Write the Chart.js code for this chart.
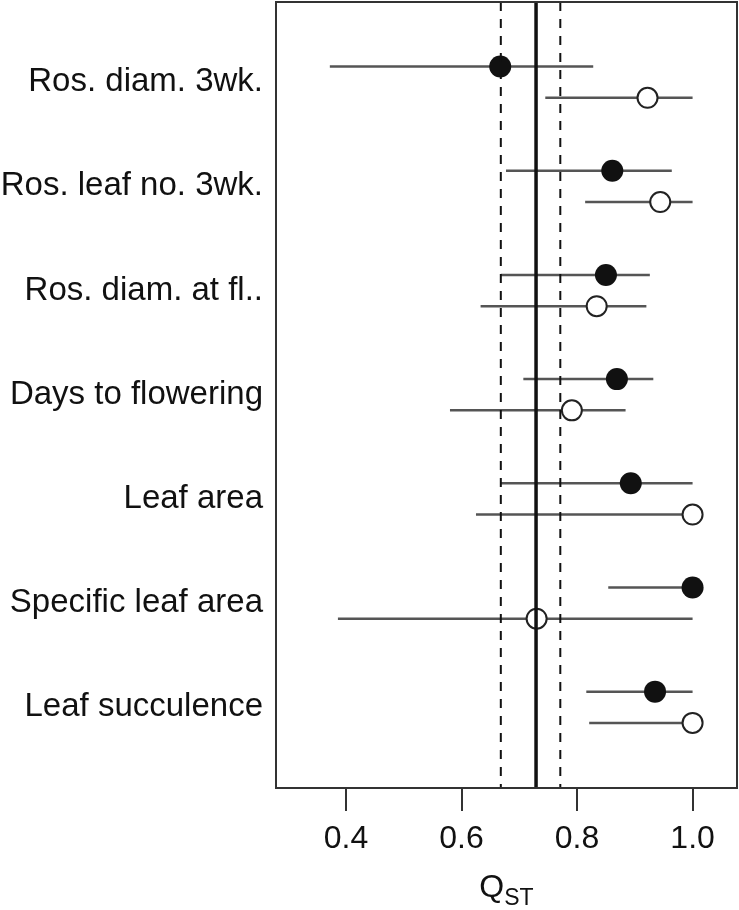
<!DOCTYPE html>
<html>
<head>
<meta charset="utf-8">
<script src="https://cdn.jsdelivr.net/npm/chart.js@4/dist/chart.umd.min.js"></script>
<style>
	html, body { margin: 0; padding: 0; background: #fff; }
	#plot { position: relative; width: 739px; height: 910px; }
</style>
</head>
<body>
<div id="plot"><canvas id="chart"></canvas></div>
<script>
const traits = [
	'Ros. diam. 3wk.',
	'Ros. leaf no. 3wk.',
	'Ros. diam. at fl..',
	'Days to flowering',
	'Leaf area',
	'Specific leaf area',
	'Leaf succulence',
];

// filled circles
const filledMean = [0.667, 0.861, 0.850, 0.869, 0.893, 1.000, 0.935];
const filledLow  = [0.372, 0.677, 0.668, 0.707, 0.668, 0.854, 0.816];
const filledHigh = [0.828, 0.964, 0.926, 0.932, 1.000, 1.000, 1.000];

// open circles
const openMean = [0.922, 0.944, 0.834, 0.791, 1.000, 0.730, 1.000];
const openLow  = [0.745, 0.814, 0.633, 0.580, 0.625, 0.386, 0.821];
const openHigh = [1.000, 1.000, 0.920, 0.884, 1.000, 1.000, 1.000];

// vertical reference lines
const refMean = 0.729;
const refLow = 0.668;
const refHigh = 0.771;

const xTicks = [0.4, 0.6, 0.8, 1.0];

const FONT = '"Liberation Sans", Arial, Helvetica, sans-serif';
const ROW_SHIFT = 0.15;
const Y_MIN = -0.77;
const Y_MAX = 6.775;

const whisker = (lo, hi, y) => ({
	data: [{x: lo, y}, {x: hi, y}],
	showLine: true,
	borderColor: '#555',
	borderWidth: 2.5,
	pointRadius: 0,
	order: 2,
});

const vline = (x, width, dash) => ({
	data: [{x, y: Y_MIN}, {x, y: Y_MAX}],
	showLine: true,
	borderColor: '#111',
	borderWidth: width,
	borderDash: dash,
	pointRadius: 0,
	order: 0,
});

const datasets = [];
traits.forEach((_, i) => {
	datasets.push(whisker(filledLow[i], filledHigh[i], i - ROW_SHIFT));
	datasets.push(whisker(openLow[i], openHigh[i], i + ROW_SHIFT));
});
datasets.push({
	data: filledMean.map((x, i) => ({x, y: i - ROW_SHIFT})),
	pointRadius: 11,
	pointBackgroundColor: '#111',
	pointBorderColor: '#111',
	pointBorderWidth: 0,
	order: 1,
});
datasets.push({
	data: openMean.map((x, i) => ({x, y: i + ROW_SHIFT})),
	pointRadius: 10,
	pointBackgroundColor: '#fff',
	pointBorderColor: '#222',
	pointBorderWidth: 2,
	order: 1,
});
datasets.push(vline(refLow, 2, [9, 8]));
datasets.push(vline(refHigh, 2, [9, 8]));
datasets.push(vline(refMean, 3.5, []));

const framePlugin = {
	id: 'frame',
	afterDraw(chart) {
		const {ctx, chartArea: a} = chart;
		ctx.save();
		ctx.strokeStyle = '#333';
		ctx.lineWidth = 2;
		ctx.strokeRect(a.left, a.top, a.right - a.left, a.bottom - a.top);
		// axis title Q with subscript ST
		ctx.fillStyle = '#111';
		ctx.textBaseline = 'alphabetic';
		ctx.font = `32px ${FONT}`;
		const wq = ctx.measureText('Q').width;
		ctx.font = `23px ${FONT}`;
		const ws = ctx.measureText('ST').width;
		const cx = (a.left + a.right) / 2;
		const x0 = cx - (wq + ws) / 2;
		ctx.font = `32px ${FONT}`;
		ctx.fillText('Q', x0, 897);
		ctx.font = `23px ${FONT}`;
		ctx.fillText('ST', x0 + wq, 905);
		ctx.restore();
	}
};

new Chart(document.getElementById('chart'), {
	type: 'scatter',
	data: {datasets},
	plugins: [framePlugin],
	options: {
		responsive: true,
		maintainAspectRatio: false,
		animation: false,
		layout: {autoPadding: false, padding: {top: 2, right: 2, bottom: 0, left: 0}},
		plugins: {
			legend: {display: false},
			tooltip: {enabled: false},
		},
		scales: {
			x: {
				type: 'linear',
				min: 0.2788,
				max: 1.0769,
				afterBuildTicks: (scale) => {
					scale.ticks = xTicks.map((value) => ({value}));
				},
				afterFit: (scale) => {
					scale.height = 122;
					scale.paddingLeft = 0;
					scale.paddingRight = 0;
				},
				border: {display: false},
				grid: {
					drawOnChartArea: false,
					drawTicks: true,
					tickLength: 23,
					tickColor: '#333',
					lineWidth: 2,
				},
				ticks: {
					color: '#111',
					font: {family: FONT, size: 32},
					padding: 9,
					maxRotation: 0,
					callback: (v) => Number(v).toFixed(1),
				},
			},
			y: {
				type: 'linear',
				reverse: true,
				min: Y_MIN,
				max: Y_MAX,
				afterBuildTicks: (scale) => {
					scale.ticks = traits.map((_, i) => ({value: i}));
				},
				afterFit: (scale) => {
					scale.width = 276;
					scale.paddingTop = 0;
					scale.paddingBottom = 0;
				},
				border: {display: false},
				grid: {display: false, drawTicks: false},
				ticks: {
					color: '#111',
					font: {family: FONT, size: 33},
					padding: 13,
					callback: (v) => traits[v],
				},
			},
		},
	},
});
</script>
</body>
</html>
